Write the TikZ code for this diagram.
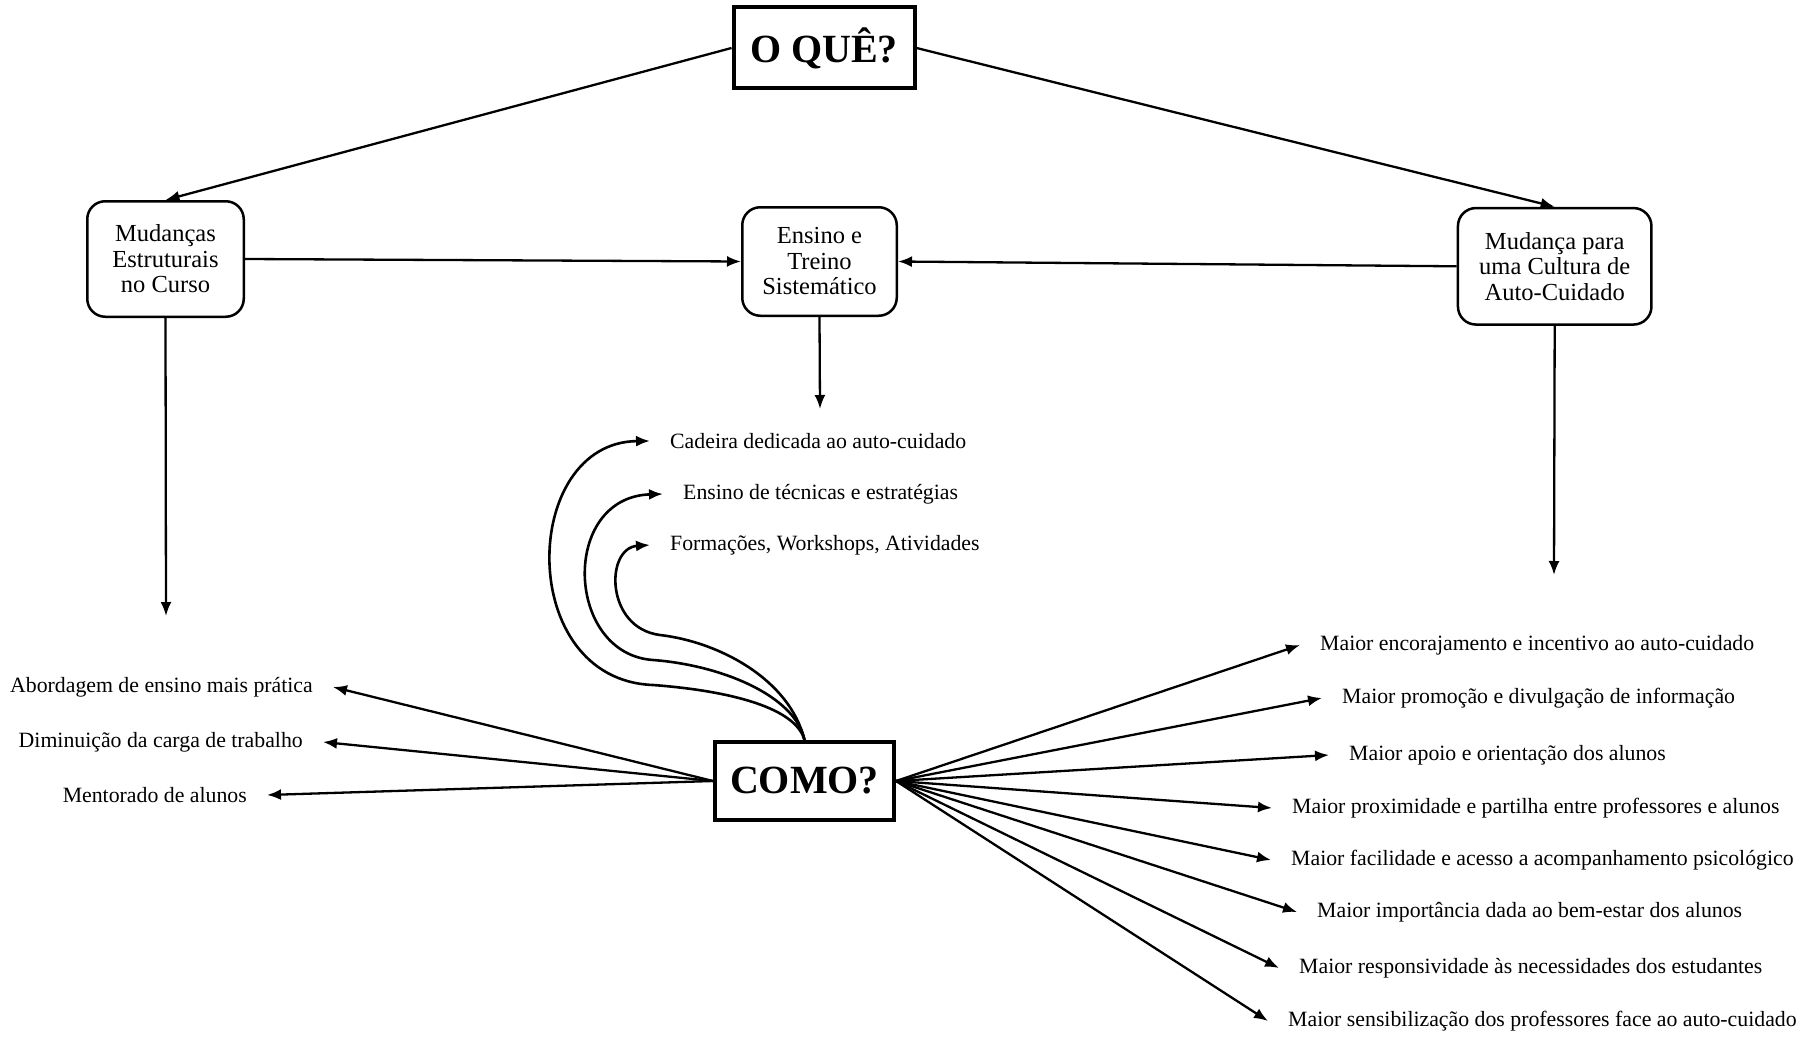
\documentclass[tikz,border=0pt]{standalone}
\usepackage{fontspec}
\setmainfont{Liberation Serif}
\usetikzlibrary{arrows.meta}
\tikzset{
    box/.style={draw, rounded corners=18pt, line width=2.5pt, align=center,
        font=\fontsize{24.5}{25.5}\selectfont, inner sep=0pt},
    bigbox/.style={draw, line width=4pt, inner sep=0pt,
        font=\fontsize{40}{46}\selectfont\bfseries},
    item/.style={font=\fontsize{21.8}{24}\selectfont, inner xsep=20pt, inner ysep=0pt},
    arr/.style={-{Latex[length=14pt, width=11pt]}, line width=2.3pt},
}
\begin{document}
\begin{tikzpicture}[x=1pt, y=-1pt]
        \useasboundingbox (0, 0) rectangle (1813, 1041);
        % questions
        \node[bigbox, minimum width=181pt, minimum height=81pt] (oque) at (824, 48) {O QUÊ?};
        \node[bigbox, minimum width=179pt, minimum height=78pt] (como) at (804.5, 781) {COMO?};
        % themes
        \node[box, minimum width=156.5pt, minimum height=115.5pt] (mud) at (165.5, 259) {Mudanças\\Estruturais\\no Curso};
        \node[box, minimum width=154.5pt, minimum height=108.5pt] (ens) at (819.5, 261.5) {Ensino e\\Treino\\Sistemático};
        \node[box, minimum width=193.5pt, minimum height=116.5pt] (cult) at (1554.7, 266.3) {Mudança para\\uma Cultura de\\Auto-Cuidado};
        \draw[arr] (oque.west) -- (mud.north);
        \draw[arr] (oque.east) -- (cult.north);
        \draw[arr] (mud.east) -- (ens.west);
        \draw[arr] (cult.west) -- (ens.east);
        \coordinate (mudend) at (166, 616);
        \coordinate (ensend) at (820, 409);
        \coordinate (cultend) at (1554, 575);
        \draw[arr] (mud.south) -- (mudend);
        \draw[arr] (ens.south) -- (ensend);
        \draw[arr] (cult.south) -- (cultend);
        % ensino e treino
        \node[item, anchor=west] (cad) at (650, 441) {Cadeira dedicada ao auto-cuidado};
        \node[item, anchor=west] (tec) at (663, 494) {Ensino de técnicas e estratégias};
        \node[item, anchor=west] (form) at (650, 545) {Formações, Workshops, Atividades};
        \draw[arr, line width=2.6pt] (como.north) .. controls (795, 705) and (720, 690) .. (653, 685)
            .. controls (515, 680) and (520, 442) .. (cad.west);
        \draw[arr, line width=2.6pt] (como.north) .. controls (795, 695) and (720, 665) .. (653, 660)
            .. controls (565, 654) and (560, 497) .. (tec.west);
        \draw[arr, line width=2.6pt] (como.north) .. controls (790, 680) and (720, 642) .. (660, 635)
            .. controls (605, 628) and (605, 548) .. (form.west);
        % estruturais
        \node[item, anchor=east] (abord) at (333, 687) {Abordagem de ensino mais prática};
        \node[item, anchor=east] (dimin) at (323, 742) {Diminuição da carga de trabalho};
        \node[item, anchor=east] (mentor) at (267, 795) {Mentorado de alunos};
        \draw[arr] (como.west) -- (abord.east);
        \draw[arr] (como.west) -- (dimin.east);
        \draw[arr] (como.west) -- (mentor.east);
        % cultura de auto-cuidado
        \node[item, anchor=west] (r1) at (1300, 645) {Maior encorajamento e incentivo ao auto-cuidado};
        \node[item, anchor=west] (r2) at (1322, 698) {Maior promoção e divulgação de informação};
        \node[item, anchor=west] (r3) at (1329, 755) {Maior apoio e orientação dos alunos};
        \node[item, anchor=west] (r4) at (1272, 808) {Maior proximidade e partilha entre professores e alunos};
        \node[item, anchor=west] (r5) at (1271, 860) {Maior facilidade e acesso a acompanhamento psicológico};
        \node[item, anchor=west] (r6) at (1297, 912) {Maior importância dada ao bem-estar dos alunos};
        \node[item, anchor=west] (r7) at (1279, 968) {Maior responsividade às necessidades dos estudantes};
        \node[item, anchor=west] (r8) at (1268, 1021) {Maior sensibilização dos professores face ao auto-cuidado};
        \draw[arr] (como.east) -- (r1.west);
        \draw[arr] (como.east) -- (r2.west);
        \draw[arr] (como.east) -- (r3.west);
        \draw[arr] (como.east) -- (r4.west);
        \draw[arr] (como.east) -- (r5.west);
        \draw[arr] (como.east) -- (r6.west);
        \draw[arr] (como.east) -- (r7.west);
        \draw[arr] (como.east) -- (r8.west);
\end{tikzpicture}
\end{document}
